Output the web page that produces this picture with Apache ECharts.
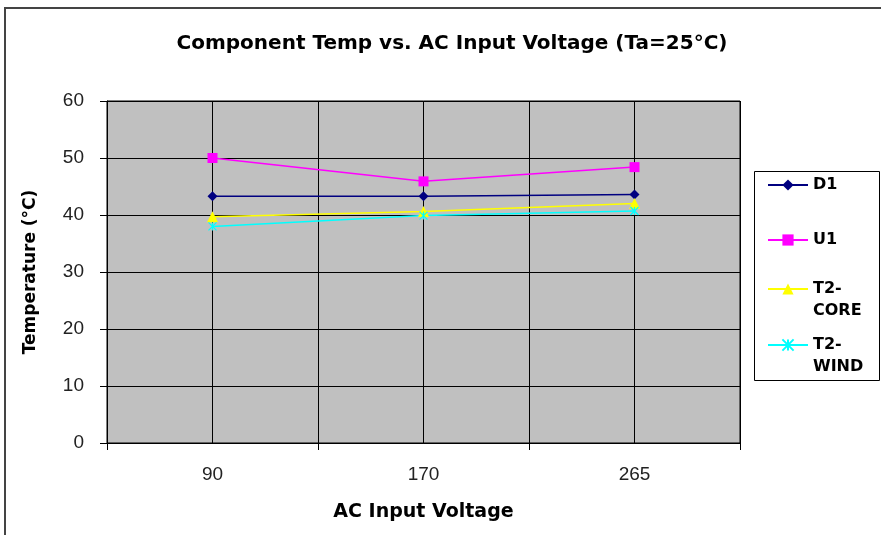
<!DOCTYPE html>
<html>
<head>
<meta charset="utf-8">
<script src="https://cdn.jsdelivr.net/npm/echarts@6/dist/echarts.min.js"></script>
<style>
html,body{margin:0;padding:0;background:#fff;}
#chart{width:881px;height:535px;}
</style>
</head>
<body>
<div id="chart"></div>
<script>
var categories = ['90', '170', '265'];
var d1 = [43.3, 43.3, 43.6];
var u1 = [50.0, 45.9, 48.4];
var t2core = [39.7, 40.6, 42.0];
var t2wind = [38.0, 39.9, 40.7];
var yTicks = [0, 10, 20, 30, 40, 50, 60];

var chart = echarts.init(document.getElementById('chart'));
var legendText = {
  'D1': 'D1',
  'U1': 'U1',
  'T2-CORE': '\u00a0\nT2-\nCORE',
  'T2-WIND': '\u00a0\nT2-\nWIND'
};
function mkLegend(name, top) {
  return {
    data: [name],
    left: 767,
    top: top,
    padding: 0,
    itemWidth: 40,
    itemHeight: 14,
    itemGap: 0,
    orient: 'vertical',
    formatter: function (n) { return legendText[n]; },
    textStyle: {
      fontFamily: 'DejaVu Sans',
      fontWeight: 'bold',
      fontSize: 16,
      lineHeight: 22,
      color: '#000'
    }
  };
}
var starPath = 'path://M0,0L10,10M10,0L0,10M5,0L5,10';

var option = {
  animation: false,
  backgroundColor: '#fff',
  title: {
    text: 'Component Temp vs. AC Input Voltage (Ta=25°C)',
    left: 447,
    textAlign: 'center',
    top: 29,
    textStyle: {
      fontFamily: 'DejaVu Sans',
      fontWeight: 'bold',
      fontSize: 20,
      color: '#000'
    }
  },
  graphic: [
    {
      type: 'rect',
      shape: { x: 5, y: 8, width: 900, height: 600 },
      style: { fill: 'none', stroke: '#444', lineWidth: 2 },
      z: -10
    },
    {
      type: 'rect',
      shape: { x: 754.5, y: 171.5, width: 125, height: 209 },
      style: { fill: '#fff', stroke: '#000', lineWidth: 1 },
      z: -5
    }
  ],
  legend: [
    mkLegend('D1', 174),
    mkLegend('U1', 229),
    mkLegend('T2-CORE', 256),
    mkLegend('T2-WIND', 312)
  ],
  grid: {
    left: 107,
    right: 141,
    top: 101,
    bottom: 92,
    show: true,
    backgroundColor: '#c0c0c0',
    borderColor: '#000',
    borderWidth: 1,
    containLabel: false
  },
  xAxis: [
    {
      type: 'category',
      data: categories,
      boundaryGap: true,
      name: 'AC Input Voltage',
      nameLocation: 'middle',
      nameGap: 60,
      nameTextStyle: {
        fontFamily: 'DejaVu Sans',
        fontWeight: 'bold',
        fontSize: 19,
        color: '#000'
      },
      axisLine: { show: true, lineStyle: { color: '#000', width: 1 } },
      axisTick: { show: true, length: 7, lineStyle: { color: '#000' } },
      axisLabel: {
        margin: 22,
        fontFamily: 'Liberation Sans',
        fontSize: 19,
        color: '#222'
      },
      splitLine: { show: false }
    },
    {
      type: 'value',
      min: 0,
      max: 6,
      interval: 1,
      show: true,
      position: 'bottom',
      axisLine: { show: false },
      axisTick: { show: false },
      axisLabel: { show: false },
      splitLine: { show: true, lineStyle: { color: '#000', width: 1 } }
    }
  ],
  yAxis: {
    type: 'value',
    min: yTicks[0],
    max: yTicks[yTicks.length - 1],
    interval: 10,
    name: 'Temperature (°C)',
    nameLocation: 'middle',
    nameGap: 68,
    nameTextStyle: {
      fontFamily: 'DejaVu Sans',
      fontWeight: 'bold',
      fontSize: 17,
      color: '#000'
    },
    axisLine: { show: true, lineStyle: { color: '#000', width: 1 } },
    axisTick: { show: true, length: 7, lineStyle: { color: '#000' } },
    axisLabel: {
      margin: 23,
      fontFamily: 'Liberation Sans',
      fontSize: 19,
      color: '#222'
    },
    splitLine: { show: true, lineStyle: { color: '#000', width: 1 } }
  },
  series: [
    {
      name: 'D1', type: 'line', data: d1, xAxisIndex: 0,
      symbol: 'diamond', symbolSize: 10,
      itemStyle: { color: '#000080' },
      lineStyle: { color: '#000080', width: 1.5 }
    },
    {
      name: 'U1', type: 'line', data: u1, xAxisIndex: 0,
      symbol: 'rect', symbolSize: 10,
      itemStyle: { color: '#ff00ff' },
      lineStyle: { color: '#ff00ff', width: 1.5 }
    },
    {
      name: 'T2-CORE', type: 'line', data: t2core, xAxisIndex: 0,
      symbol: 'triangle', symbolSize: 11,
      itemStyle: { color: '#ffff00' },
      lineStyle: { color: '#ffff00', width: 1.5 }
    },
    {
      name: 'T2-WIND', type: 'line', data: t2wind, xAxisIndex: 0,
      symbol: starPath, symbolSize: 8,
      itemStyle: { color: '#00ffff', borderColor: '#00ffff', borderWidth: 1.2 },
      lineStyle: { color: '#00ffff', width: 1.5 }
    }
  ]
};
chart.setOption(option);
</script>
</body>
</html>
